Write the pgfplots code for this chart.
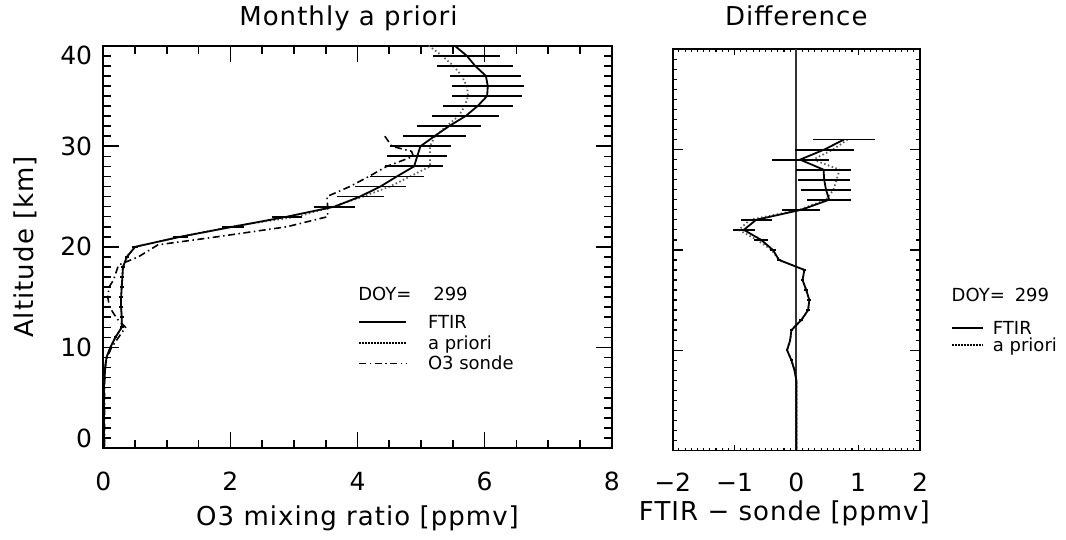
\documentclass[border=0pt]{standalone}
\usepackage{fontspec}
\setmainfont{DejaVu Sans}
\usepackage{pgfplots}
\usepackage{pgfplotstable}
\pgfplotsset{compat=1.18}
\definecolor{apri}{RGB}{95,95,95}

\newcommand{\ticksize}{\fontsize{25}{30}\selectfont}
\newcommand{\labsize}{\fontsize{26}{31}\selectfont\addfontfeatures{LetterSpace=4}}
\newcommand{\legsize}{\fontsize{18}{21}\selectfont}

% FTIR retrieval, its error and the a priori profile [ppmv]
\pgfplotstableread{
alt ftir err apri
40 5.53 0.00 5.12
39 5.72 0.53 5.33
38 5.85 0.60 5.51
37 6.02 0.56 5.64
36 6.05 0.57 5.72
35 6.04 0.55 5.74
34 5.89 0.55 5.69
33 5.70 0.53 5.59
32 5.44 0.51 5.40
31 5.21 0.49 5.22
30 4.99 0.48 5.14
29 4.94 0.47 5.14
28 4.89 0.45 5.14
27 4.62 0.42 4.83
26 4.36 0.40 4.51
25 4.04 0.37 4.09
24 3.64 0.32 3.62
23 2.89 0.24 3.05
22 2.04 0.18 2.00
21 1.21 0.12 1.21
20 0.50 0.05 0.50
19 0.37 0.03 0.37
18 0.31 0.03 0.31
17 0.30 0.03 0.30
16 0.29 0.03 0.29
15 0.28 0.03 0.28
14 0.28 0.03 0.28
13 0.29 0.03 0.29
12 0.29 0.03 0.29
11 0.19 0.02 0.19
10 0.11 0.02 0.11
9 0.05 0.02 0.05
8 0.03 0.01 0.03
7 0.02 0.01 0.02
6 0.01 0.01 0.01
5 0.01 0.01 0.01
4 0.01 0.01 0.01
3 0.01 0.01 0.01
2 0.01 0.01 0.01
1 0.01 0.01 0.01
0 0.01 0.01 0.01
}\ftirtab

% ozone sonde
\pgfplotstableread{
alt o3
31.0 4.43
30.0 4.54
29.5 4.85
29.0 4.88
28.0 4.46
27.0 4.18
26.0 3.88
25.0 3.52
24.0 3.53
23.0 3.53
22.0 2.89
21.0 1.79
20.2 0.86
19.0 0.55
18.2 0.24
16.7 0.16
16.0 0.09
15.0 0.07
14.0 0.10
12.9 0.21
12.0 0.35
11.0 0.24
10.0 0.13
8.7 0.04
7.0 0.02
0.0 0.02
}\sondetab

% differences to the sonde
\pgfplotstableread{
alt diff err adiff
31 0.77 0.50 0.83
30 0.45 0.48 0.59
29 0.06 0.46 0.27
28 0.44 0.45 0.70
27 0.45 0.42 0.65
26 0.48 0.40 0.60
25 0.53 0.36 0.48
24 0.08 0.31 0.05
23 -0.65 0.25 -0.75
22 -0.85 0.18 -0.93
21 -0.57 0.11 -0.64
20 -0.38 0.05 -0.40
19 -0.28 0.03 -0.28
18 0.13 0.03 0.13
17 0.10 0.03 0.10
16 0.16 0.03 0.16
15 0.21 0.03 0.21
14 0.19 0.03 0.19
13 0.08 0.03 0.08
12 -0.08 0.03 -0.08
11 -0.10 0.02 -0.10
10 -0.15 0.02 -0.15
9 -0.08 0.02 -0.08
8 -0.03 0.01 -0.03
7 0.00 0.01 0.00
6 0.00 0.01 0.00
5 0.00 0.01 0.00
4 0.00 0.01 0.00
3 0.00 0.01 0.00
2 0.00 0.01 0.00
1 0.00 0.01 0.00
0 0.00 0.01 0.00
}\difftab

\pgfplotsset{
  idl/.style={
    scale only axis, clip=false,
    ymin=0, ymax=40,
    tick pos=both, tick align=inside,
    axis line style={line width=1.8pt},
    every tick/.style={black, line width=1.6pt},
    xticklabel style={font=\ticksize, anchor=base, inner sep=0pt},
    yticklabel style={font=\ticksize, anchor=base east, inner sep=0pt, xshift=-11pt, yshift=-9pt},
    title style={font=\labsize, at={(axis description cs:0.5,1)}, anchor=base},
    xlabel style={font=\labsize, at={(axis description cs:0.5,0)}, anchor=base},
    legend style={draw=none, fill=none, font=\legsize, inner sep=0pt,
      anchor=north west, cells={anchor=west}, column sep=0pt,
      nodes={inner sep=0pt, text height=13pt, text depth=0pt}},
  },
  errx/.style={error bars/.cd, x dir=both, x explicit, error mark=none,
    error bar style={black, line width=1.8pt, solid}},
}

\begin{document}
\begin{tikzpicture}
\useasboundingbox (0,0) rectangle (1066pt,539pt);

% ---- left panel ----
\begin{axis}[idl,
  at={(103.3pt,91pt)}, anchor=south west,
  width=508.4pt, height=402.3pt,
  xmin=0, xmax=8,
  xtick={0,2,4,6,8}, xticklabels={0,2,4,6,8},
  ytick={0,10,20,30,40},
  yticklabels={\raisebox{10pt}{0},10,20,30,\raisebox{-10pt}{40}},
  minor x tick num=3, minor y tick num=9,
  major tick length=16pt, minor tick length=8pt,
  xticklabel style={yshift=-42pt},
  title={Monthly a priori}, title style={yshift=14pt, xshift=-9pt},
  xlabel={O3 mixing ratio [ppmv]}, xlabel style={yshift=-77pt},
  ylabel={Altitude [km]},
  ylabel style={font=\labsize, at={(axis description cs:-0.1375,0.5)}, anchor=base},
  legend style={at={(0.501,0.329)}, row sep=7.5pt},
  legend image code/.code={\draw[#1] (0pt,0pt) -- (47pt,0pt);},
]
\addplot[forget plot, apri, line width=1.8pt, dash pattern=on 1.5pt off 2.5pt]
  table[x=apri, y=alt] {\ftirtab};
\addplot[forget plot, black, line width=1.6pt, dash pattern=on 7pt off 3.5pt on 1.5pt off 3.5pt]
  table[x=o3, y=alt] {\sondetab};
\addplot[forget plot, black, line width=1.8pt, errx]
  table[x=ftir, y=alt, x error=err] {\ftirtab};

\addlegendimage{black, line width=1.8pt}
\addlegendentry{\hspace{21pt}FTIR}
\addlegendimage{black, line width=1.8pt, dash pattern=on 1.5pt off 1.5pt}
\addlegendentry{\hspace{21pt}a priori}
\addlegendimage{black, line width=1.6pt, dash pattern=on 7pt off 3.5pt on 1.5pt off 3.5pt}
\addlegendentry{\hspace{21pt}O3 sonde}

\node[anchor=base west, font=\legsize, inner sep=0pt] at (axis cs:4.01,14.7) {DOY=};
\node[anchor=base west, font=\legsize, inner sep=0pt] at (axis cs:5.19,14.7) {299};
\end{axis}

% ---- right panel: y ticks ----
\begin{axis}[idl,
  at={(672.7pt,88.5pt)}, anchor=south west,
  width=247.3pt, height=401.2pt,
  xmin=-2, xmax=2, xtick=\empty,
  ytick={0,10,20,30,40}, yticklabels={},
  minor y tick num=9,
  major tick length=10pt, minor tick length=4.5pt,
  every tick/.style={black, line width=1.3pt},
]
\end{axis}

% ---- right panel ----
\begin{axis}[idl,
  at={(672.7pt,88.5pt)}, anchor=south west,
  width=247.3pt, height=401.2pt,
  xmin=-2, xmax=2, ytick=\empty,
  xtick={-2,-1,0,1,2}, xticklabels={−2,−1,0,1,2},
  minor x tick num=9,
  major tick length=6pt, minor tick length=2.5pt,
  every tick/.style={black, line width=1.1pt},
  xticklabel style={yshift=-41pt},
  title={Difference}, title style={yshift=18pt},
  xlabel={FTIR − sonde [ppmv]}, xlabel style={yshift=-69.5pt, xshift=-12pt},
  legend style={at={(1.125,0.322)}, row sep=4pt},
  legend image code/.code={\draw[#1] (0pt,0pt) -- (31pt,0pt);},
]
\addplot[forget plot, black!80, line width=1.8pt] coordinates {(0,0) (0,40)};
\addplot[forget plot, apri, line width=1.8pt, dash pattern=on 1.5pt off 2.5pt]
  table[x=adiff, y=alt] {\difftab};
\addplot[forget plot, black, line width=1.8pt, errx]
  table[x=diff, y=alt, x error=err] {\difftab};

\addlegendimage{black, line width=1.8pt}
\addlegendentry{\hspace{9pt}FTIR}
\addlegendimage{black, line width=1.8pt, dash pattern=on 1.5pt off 1.5pt}
\addlegendentry{\hspace{9pt}a priori}

\node[anchor=base west, font=\legsize, inner sep=0pt] at (axis cs:2.51,14.85) {DOY=};
\node[anchor=base west, font=\legsize, inner sep=0pt] at (axis cs:3.53,14.85) {299};
\end{axis}
\end{tikzpicture}
\end{document}
